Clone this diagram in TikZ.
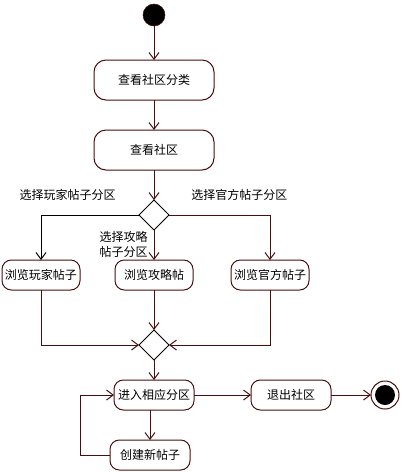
\documentclass[tikz,border=0pt]{standalone}
\usepackage{fontspec}
\newfontfamily\cjk{Noto Sans CJK SC}
\usetikzlibrary{arrows.meta,positioning,shapes.geometric}
\definecolor{umlline}{HTML}{4A0E0E}
\tikzset{activity/.style={rectangle,rounded corners=9pt,draw=umlline,fill=white,line width=0.75pt,outer sep=0pt,minimum width=90pt,minimum height=30pt,font=\cjk\fontsize{9pt}{11pt}\selectfont}}
\tikzset{smallact/.style={activity,rounded corners=7pt,minimum width=58.5pt,minimum height=22.5pt,inner sep=1pt}}
\tikzset{branch/.style={diamond,draw=black,fill=white,line width=0.75pt,outer sep=0pt,minimum width=22.5pt,minimum height=22.5pt,inner sep=0pt}}
\tikzset{initial/.style={circle,fill=black,draw=umlline,outer sep=0pt,minimum size=16.5pt,inner sep=0pt}}
\tikzset{final/.style={circle,draw=umlline,fill=white,line width=0.75pt,outer sep=0pt,minimum size=21pt,inner sep=0pt,path picture={\fill[black] (path picture bounding box.center) circle (7.5pt);}}}
\tikzset{toArrow/.style={{Straight Barb[length=5pt,width=7.5pt]}-,draw=umlline,line width=0.75pt}}
\tikzset{flow/.style={-{Straight Barb[length=5pt,width=7.5pt]},draw=umlline,line width=0.75pt}}
\tikzset{guard/.style={font=\cjk\fontsize{9pt}{11pt}\selectfont,inner sep=0pt,align=left}}
\begin{document}
\begin{tikzpicture}
\useasboundingbox (0,0) rectangle (300.75pt,-354pt);
\begin{scope}[node distance=22.5pt]
	\node (start) [initial] at (115.5pt,-11.25pt) {};
	\node (viewcat) [activity, below=25.5pt of start] {查看社区分类} edge [toArrow] (start);
	\node (viewcomm) [activity, below =of viewcat] {查看社区} edge [toArrow] (viewcat);
	\node (choose) [branch, below =of viewcomm] {} edge [toArrow] (viewcomm);
	\node (guide) [smallact, below =of choose] {浏览攻略帖} edge [toArrow] (choose);
	\node (player) [smallact, left=26.25pt of guide] {浏览玩家帖子};
	\node (official) [smallact, right=28.5pt of guide] {浏览官方帖子};
	\node (merge) [branch, below=30pt of guide] {} edge [toArrow] (guide);
	\node (enter) [smallact, minimum width=60pt, below=15pt of merge] {进入相应分区} edge [toArrow] (merge);
	\node (quit) [smallact, minimum width=60pt, right=42.75pt of enter] {退出社区} edge [toArrow] (enter);
	\node (end) [final, right=30pt of quit] {} edge [toArrow] (quit);
	\node (create) [smallact, minimum width=60pt, below =of enter, xshift=-3pt] {创建新帖子};
\end{scope}
% guard labels
\node (lblplayer) [guard, above left=10.5pt and 17.25pt of choose.west] {选择玩家帖子分区};
\node (lblofficial) [guard, above right=10.5pt and 16.5pt of choose.east] {选择官方帖子分区};
\node (lblguide) [guard, below left=1pt and 4.5pt of choose.south] {选择攻略\\帖子分区};
% branches
\draw [flow,draw=black] (choose.west) -| (player.north);
\draw [flow] (choose.east) -| (official.north);
\draw [flow] (player.south) |- (merge.west);
\draw [flow] (official.south) |- (merge.east);
\draw [flow] (enter.south -| create.north) -- (create.north);
\draw [flow] (create.west) -- ++(-22.5pt,0) |- (enter.west);
\end{tikzpicture}
\end{document}
